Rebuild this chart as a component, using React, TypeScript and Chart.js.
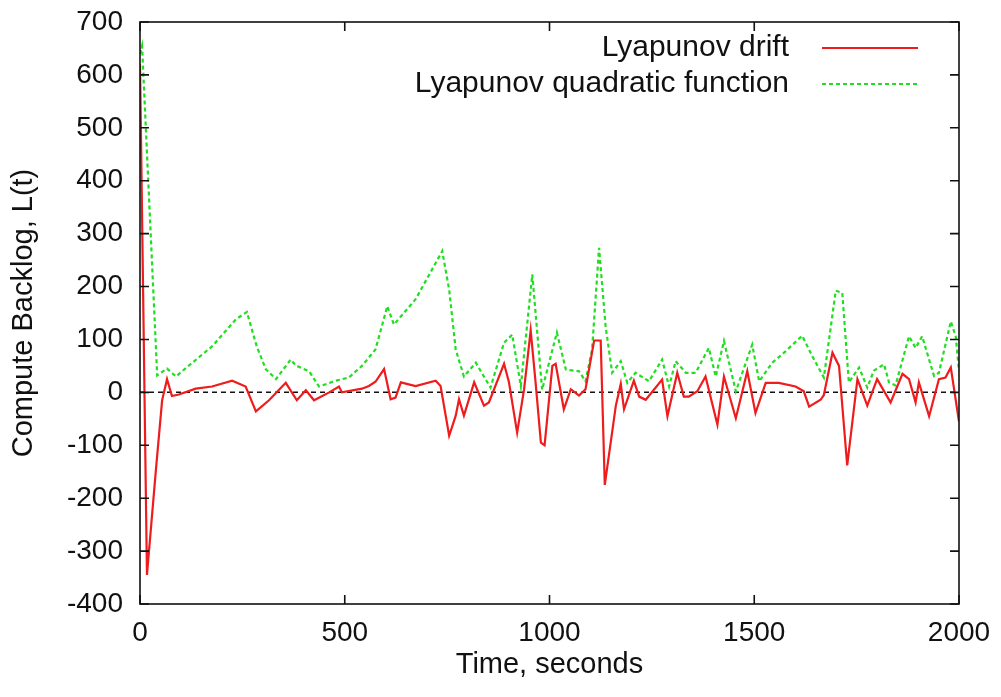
import React, { useEffect, useRef } from "react";
import { Chart, registerables } from "chart.js";

Chart.register(...registerables);

// Lyapunov drift (red, solid)
const driftTime = [
  0, 17, 39, 54, 66, 78, 95, 136, 176, 225, 258, 283, 315, 356, 383, 405, 425, 462, 486, 493,
  542, 559, 575, 596, 612, 624, 637, 673, 722, 734, 755, 771, 779, 791, 816, 840, 852, 889, 901,
  921, 938, 954, 966, 979, 988, 1007, 1015, 1035, 1052, 1072, 1088, 1109, 1125, 1135, 1162, 1174,
  1182, 1206, 1219, 1235, 1275, 1288, 1312, 1328, 1340, 1361, 1381, 1410, 1426, 1455, 1483, 1503,
  1528, 1560, 1601, 1621, 1634, 1662, 1670, 1691, 1707, 1727, 1752, 1776, 1800, 1833, 1862, 1878,
  1894, 1902, 1927, 1951, 1967, 1980, 2000,
];
const driftValues = [
  620, -345, -145, -15, 25, -7, -4, 7, 11, 22, 11, -36, -15, 18, -15, 4, -15, 0, 11, 0,
  7, 12, 20, 44, -13, -10, 19, 12, 22, 12, -82, -44, -13, -44, 19, -25, -19, 54, 19,
  -76, 6, 117, 19, -95, -100, 50, 54, -32, 6, -6, 6, 98, 98, -175, -25, 16,
  -32, 22, -8, -14, 24, -45, 37, -8, -8, 2, 30, -61, 30, -49, 40, -39,
  18, 18, 11, 2, -27, -14, -5, 75, 50, -138, 25, -25, 25, -19, 35, 25,
  -19, 19, -45, 25, 28, 47, -55,
];

// Lyapunov quadratic function (green, dashed)
const quadTime = [
  0, 5, 42, 66, 88, 103, 176, 234, 261, 285, 307, 332, 368, 380, 413, 437, 478, 510, 542, 575,
  604, 620, 673, 738, 755, 771, 791, 820, 856, 889, 909, 930, 958, 982, 1018, 1040, 1072, 1088,
  1104, 1121, 1137, 1153, 1174, 1190, 1210, 1243, 1275, 1292, 1308, 1333, 1357, 1389, 1406, 1426,
  1455, 1495, 1512, 1544, 1577, 1617, 1642, 1670, 1699, 1715, 1731, 1756, 1776, 1792, 1817, 1829,
  1845, 1878, 1894, 1910, 1939, 1951, 1980, 1992, 2000,
];
const quadValues = [
  640, 655, 32, 45, 30, 40, 87, 138, 152, 87, 44, 25, 62, 51, 40, 11, 22, 28, 50, 81,
  163, 128, 176, 267, 194, 81, 30, 56, 9, 94, 109, 12, 223, 5, 113, 43, 40, 21,
  81, 273, 125, 37, 59, 18, 37, 21, 62, 11, 59, 37, 37, 84, 30, 97,
  2, 90, 21, 56, 78, 107, 68, 28, 192, 188, 19, 47, 9, 41, 53, 19,
  13, 106, 84, 106, 31, 37, 134, 106, 40,
];

// zero reference line
const zeroTime = [0, 2000];
const zeroValues = [0, 0];

const seriesLabels = ["Lyapunov drift", "Lyapunov quadratic function"];
const xTickValues = [0, 500, 1000, 1500, 2000];
const yTickValues = [-400, -300, -200, -100, 0, 100, 200, 300, 400, 500, 600, 700];
const xTitle = "Time, seconds";
const yTitle = "Compute Backlog, L(t)";

const FONT = "'Liberation Sans', Arial, Helvetica, sans-serif";

const toPoints = (xs: number[], ys: number[]) => xs.map((x, i) => ({ x, y: ys[i] }));

const framePlugin = {
  id: "gnuplotFrame",
  afterDatasetsDraw(chart: any) {
    const { ctx, chartArea, scales } = chart;
    const { left, right, top, bottom } = chartArea;
    const xs = scales.x;
    const ys = scales.y;
    ctx.save();
    ctx.strokeStyle = "#111";
    ctx.lineWidth = 1.6;
    ctx.setLineDash([]);
    ctx.strokeRect(left, top, right - left, bottom - top);
    const L = 9;
    ctx.beginPath();
    ys.ticks.forEach((t: any) => {
      const py = ys.getPixelForValue(t.value);
      ctx.moveTo(left, py);
      ctx.lineTo(left + L, py);
      ctx.moveTo(right, py);
      ctx.lineTo(right - L, py);
    });
    xs.ticks.forEach((t: any) => {
      const px = xs.getPixelForValue(t.value);
      ctx.moveTo(px, bottom);
      ctx.lineTo(px, bottom - L);
      ctx.moveTo(px, top);
      ctx.lineTo(px, top + L);
    });
    ctx.stroke();

    // key (text right-aligned, sample line to its right), gnuplot style
    const textRight = right - 170;
    const lineStart = right - 137;
    const lineEnd = right - 41;
    const rows = [top + 26, top + 62];
    ctx.font = `30px ${FONT}`;
    ctx.textAlign = "right";
    ctx.textBaseline = "middle";
    [0, 1].forEach((i) => {
      const ds = chart.data.datasets[i];
      const yy = rows[i];
      ctx.fillStyle = "#111";
      ctx.fillText(ds.label, textRight, yy);
      ctx.beginPath();
      ctx.strokeStyle = ds.borderColor;
      ctx.lineWidth = ds.borderWidth;
      ctx.setLineDash(ds.borderDash || []);
      ctx.moveTo(lineStart, yy);
      ctx.lineTo(lineEnd, yy);
      ctx.stroke();
    });
    ctx.restore();
  },
};

export default function App() {
  const canvasRef = useRef<HTMLCanvasElement | null>(null);

  useEffect(() => {
    const canvas = canvasRef.current;
    if (!canvas) return;
    const chart = new Chart(canvas, {
      type: "line",
      data: {
        datasets: [
          {
            label: seriesLabels[0],
            data: toPoints(driftTime, driftValues),
            borderColor: "#ee1c1c",
            borderWidth: 2.2,
            pointRadius: 0,
            tension: 0,
          },
          {
            label: seriesLabels[1],
            data: toPoints(quadTime, quadValues),
            borderColor: "#22dd22",
            borderWidth: 2.2,
            borderDash: [4, 3],
            pointRadius: 0,
            tension: 0,
          },
          {
            label: "zero",
            data: toPoints(zeroTime, zeroValues),
            borderColor: "#111",
            borderWidth: 1.5,
            borderDash: [5, 4],
            pointRadius: 0,
            tension: 0,
          },
        ],
      },
      options: {
        responsive: false,
        animation: false,
        devicePixelRatio: 1,
        layout: { padding: { left: 0, top: 22, right: 42, bottom: 0 } },
        plugins: {
          legend: { display: false },
          tooltip: { enabled: false },
        },
        scales: {
          x: {
            type: "linear",
            min: 0,
            max: 2000,
            afterBuildTicks: (scale: any) => {
              scale.ticks = xTickValues.map((v) => ({ value: v }));
            },
            afterFit: (scale: any) => {
              scale.height = 93;
              scale.paddingLeft = 0;
              scale.paddingRight = 0;
            },
            grid: { display: false, drawTicks: false },
            border: { display: false },
            ticks: {
              padding: 12,
              color: "#111",
              font: { family: FONT, size: 28 },
              maxRotation: 0,
              autoSkip: false,
              callback: (v: any) => String(v),
            },
            title: {
              display: true,
              text: xTitle,
              color: "#111",
              font: { family: FONT, size: 29 },
              padding: { top: 0, bottom: 15 },
            },
          },
          y: {
            type: "linear",
            min: -400,
            max: 700,
            afterBuildTicks: (scale: any) => {
              scale.ticks = yTickValues.map((v) => ({ value: v }));
            },
            afterFit: (scale: any) => {
              scale.width = 140;
              scale.paddingTop = 0;
              scale.paddingBottom = 0;
            },
            grid: { display: false, drawTicks: false },
            border: { display: false },
            ticks: {
              padding: 17,
              color: "#111",
              font: { family: FONT, size: 28 },
              autoSkip: false,
              callback: (v: any) => String(v),
            },
            title: {
              display: true,
              text: yTitle,
              color: "#111",
              font: { family: FONT, size: 29 },
              padding: { top: 7, bottom: 0 },
            },
          },
        },
      },
      plugins: [framePlugin],
    });
    return () => chart.destroy();
  }, []);

  return (
    <div style={{ position: "absolute", left: 0, top: 0, width: 1001, height: 697, background: "#fff" }}>
      <canvas ref={canvasRef} width={1001} height={697} />
    </div>
  );
}
